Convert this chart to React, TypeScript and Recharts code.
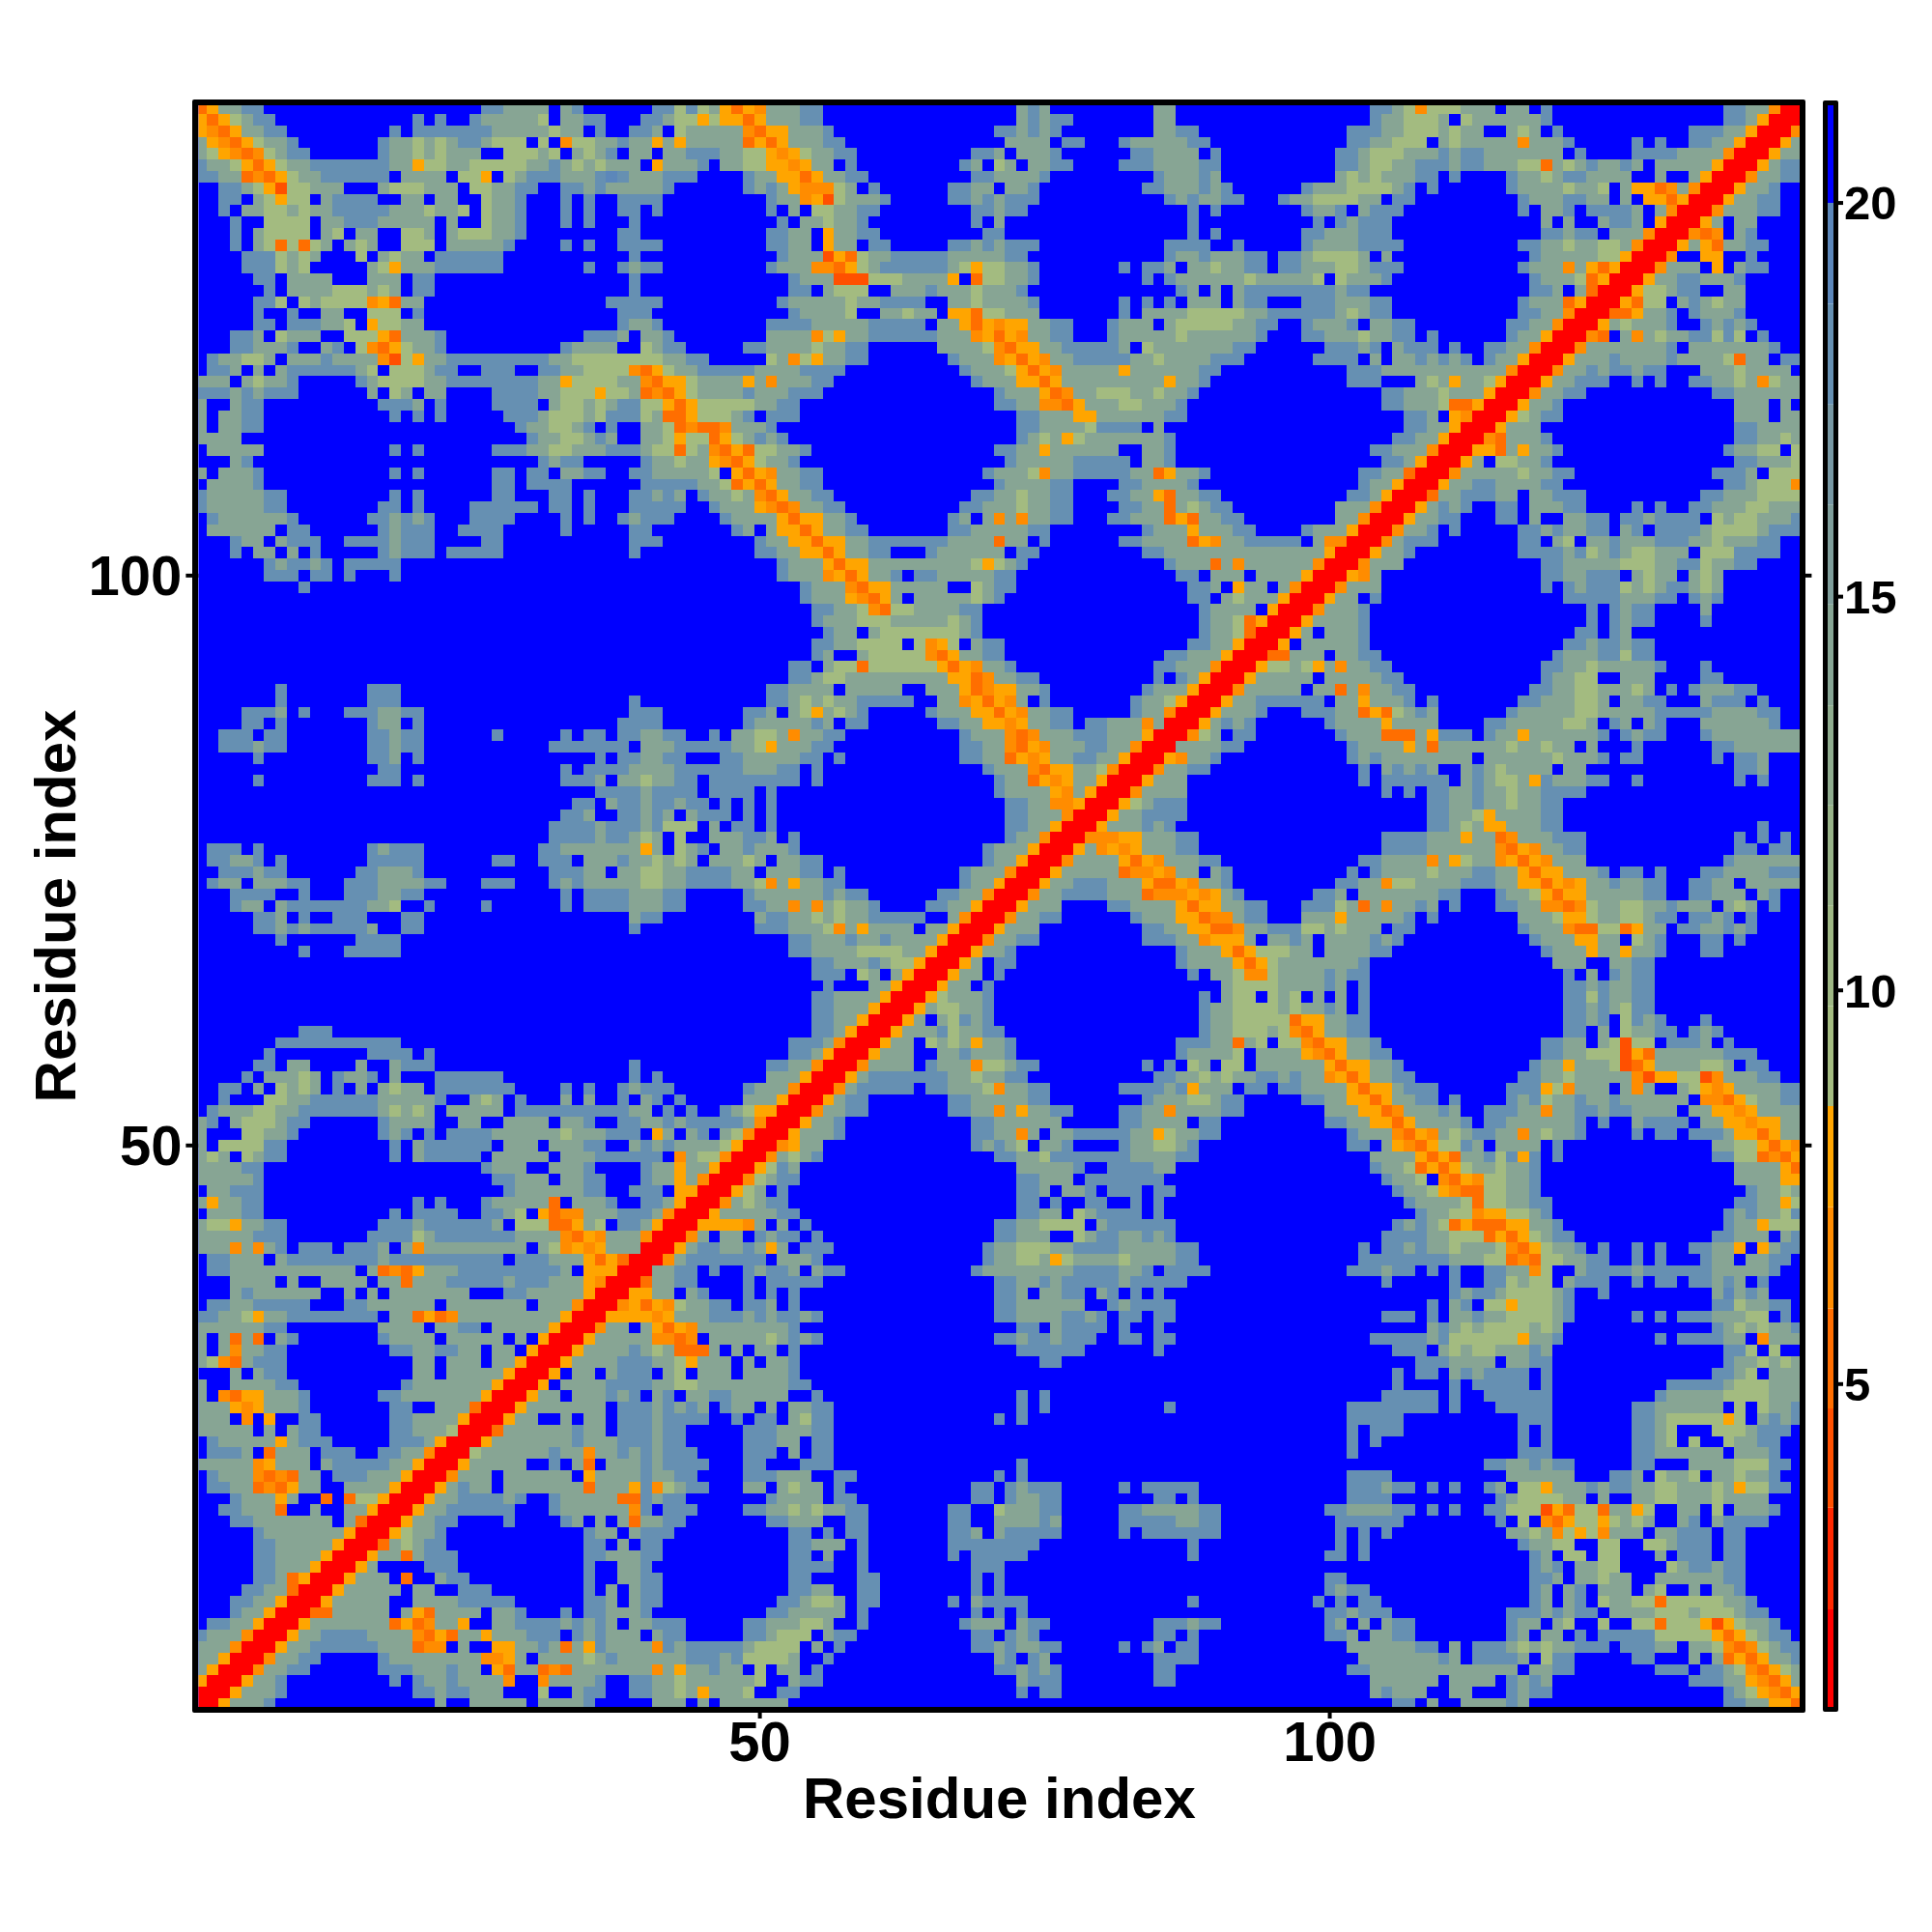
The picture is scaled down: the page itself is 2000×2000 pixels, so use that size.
import { Bar, BarChart, CartesianGrid, Scatter, ScatterChart, XAxis, YAxis } from "recharts"

// Contact map, upper-left half only, the other half is its mirror image.
// Each line is "image row|first residue:codes first residue:codes", blue cells are left out.
const westTopRows = [
    "1|1:ro3322 26:223333 33:32 41:22 43:42 45:43 47:orod",
    "2|1:oro4322 20:2 22:2 25:2333334 33:33 35:22 40:223 43:44 45:o4 47:oo 49:ro",
    "3|1:odro3322 18:2 20:222222233333433 36:2 39:223 43:433333 49:dr",
    "4|1:3odro4332 17:2334343223444 31:4 33:d 34:4433233 41:o3o 44:33333 49:ro",
    "5|1:34odrd4322 17:233434333 28:44434 34:3432 39:33 42:33222 47:3344",
    "6|1:2334oro433222222 17:233o4433444443323 34:4 35:34333 41:o3332 47:3344",
    "7|1:2233rdro433 12:22222 17:2 19:3333 24:44o 28:43222333212333222 49:23",
    "8|3:2234ox44333 17:3444333 25:443322 33:2232333332 49:23",
    "9|3:22 6:34o44 12:32222 19:33 22:33 26:4332 33:2 35:2 38:2222",
    "10|3:2 5:3344343 12:322222 18:3334334 26:4332 33:2 35:2 38:22 41:2",
    "11|4:2 7:4444 12:33222 17:33333 23:3 26:4332 33:2 35:2 39:2",
    "12|4:2 6:34444 12:34 15:33 19:443 23:3444332 38:22",
    "13|4:2 6:34r4r43 14:343 19:444 23:333332 33:2 35:2 38:2222",
    "14|5:2224343 15:4 17:3433 22:222222 39:2",
    "15|5:222434 16:34o333 22:222222 35:2 38:2322",
    "16|6:22 9:3333 16:333 20:22 39:2",
    "17|7:2 9:3333444343 20:22 39:2",
    "18|6:224 10:434444dor33 37:22222",
    "19|6:2 9:2 12:33 16:444 20:2 38:222",
    "20|6:22 9:222334 16:o4433 38:2332",
    "21|4:223 8:4333 14:444or3332 35:2223 40:332",
    "22|4:223332 12:32 15:4dro4332 33:23333 40:4322 49:22",
    "23|2:233443 9:33323333 17:dx4o33 23:222222222 32:3344444444 42:3322",
    "24|2:223 6:3 8:322222234 18:444322 26:222 31:22334444 39:dro433222223",
    "25|1:333 5:34332 15:23444433 23:22222222 31:33o4444 38:33 40:droo43333o3",
    "26|1:222323222 16:3 18:43 21:33 27:222233444o443rdro4333323",
    "27|1:3 4:322 17:2223 22:2 27:2222 32:3443432244oro4444432",
    "28|1:3 3:3322 18:2 20:2 22:2 28:2223 32:44434 37:222 40:43rro 45:44432",
    "29|1:3 3:3322 29:2334432 37:2 40:334rdrrd3332",
    "30|1:3333 30:23344323 40:334o44 46:ro4 49:32",
    "31|2:33333 18:2 20:2 27:2223 31:344333222344r43 46:dror4",
    "32|4:32 31:2322 40:233433 46:odro4",
    "33|1:3 3:3332 18:2 20:2 27:22 30:22 33:3322 39:22333 44:334 48:oro",
    "34|2:33332 27:22 30:2222 40:22222 45:33 47:4ror",
    "35|1:23333322 18:2 20:2 27:22 32:22 35:2 39:22323 45:23343d",
    "36|1:23333322 17:22 20:2 25:222222 32:22 35:2 39:22222 46:2333o",
    "37|2:23333332 16:223232 25:2222 33:2 35:2 38:23222 47:2333",
    "38|2:333333 9:22 17:23222 24:2222 33:2 39:22 48:23",
    "39|4:233 8:3222 14:22223222 26:22 39:222 50:2",
    "40|4:2 6:33 9:3 11:2 17:23222 23:22222 39:2 50:2",
    "41|7:232232 14:22222",
    "42|7:222 11:22 14:2 18:2",
    "43|10:2",
]

const westMiddleRows = [
    "52|8:2 16:222",
    "53|8:2 16:222 39:2",
    "54|5:2223 10:2 14:2223322 39:222 49:22",
    "55|5:22 8:2 16:233 20:2 38:2222 49:23",
    "56|3:222 7:22 16:22322 27:2 33:2 35:22 38:223322 46:2 48:334",
    "57|3:222322 16:22322 32:2222222 40:3332222222 48:334",
    "58|6:2 16:223 20:2 36:2 38:223322 47:2233",
    "59|17:22 33:2 35:2222333322222233",
    "60|6:2 16:222 20:2 33:2223 38:334332 44:2 46:22222",
    "61|36:222232222 46:222 49:2",
    "62|34:22 37:322322322 47:2 49:2",
    "63|33:223 38:22323 44:3222 49:2",
    "64|32:2222322232444 46:3 48:22",
    "65|32:2222322343 43:4 46:33322",
    "66|2:222 6:2 16:23222 31:2233333 38:33o3 43:432 47:3323",
    "67|2:22332 8:2 16:22222 27:22 31:222 35:3332334 42:343 46:33343",
    "68|3:222322 15:223332 32:22233 38:3344332222 48:33",
    "69|2:233 6:33322 14:222333322 26:222 32:2323333344332222334d",
    "70|4:2222 10:2 14:2223322 33:2 35:22223333 42:22 49:23",
    "71|4:233 8:32222222334 21:2 26:2 33:2 35:22223333 42:22 49:22",
    "72|6:223 10:2 13:222 19:22 39:322 50:3",
    "73|6:22323222223 19:22 39:2 50:2",
    "74|8:2 15:2222",
    "75|10:2 14:22222",
    "82|10:222",
    "83|8:22222222222",
    "84|7:2 16:2222 21:2",
    "85|6:22 9:33 15:3 18:3222 39:2",
    "86|5:2 7:33343 13:2332 18:3 22:222222 39:2 41:2",
    "87|3:22 6:3 8:4343 13:2 15:3 17:3433 22:2222222 33:2 35:2 38:23222 49:23",
    "88|3:2 7:4433222222 17:333332 25:343 29:2 33:3 35:3 38:2 40:32 43:2 49:33",
    "89|2:2333 6:4433 10:2222222 17:34343 23:33333 29:222222222 38:233 42:2 44:2 47:234o",
    "90|1:32 4:3444322 17:23333 24:33 28:3333 33:332 38:2233232 44:22222 49:3d",
    "91|1:3 5:44332 17:232 21:2 23:22223333334 34:333222 41:o3 44:32 47:34 49:dRR",
    "92|1:3 3:444422 18:2 20:3222222 28:333 32:333 35:22 39:323233 45:334 48:oRR",
    "93|1:343 5:4322 18:2 20:322222 27:33333 33:333222222 43:d344 47:dRR",
]

const westLowRows = [
    "94|1:333322 26:2333 32:3332 40:233o33 46:oRR",
    "95|1:333332 27:22333 33:3322 40:233o3 45:dRR",
    "96|2:33222 28:2333333 35:22 39:222 43:o 44:oRR",
    "97|1:3o3322 20:2 22:2 26:2333333 32:r 34:3332 40:223 43:oRR",
    "98|2:33322 18:2 20:2222 26:2234 31:ordd333 38:2223 42:dRR",
    "99|1:344o3322 17:2223222 24:2223 29:444rro34 38:223 41:oRR",
    "100|1:33333222 16:22224322 24:22222 29:3333drod333 40:dRR",
    "101|1:333d3d32 10:222 14:2223 19:3d33 23:3333333 31:34dodo33 39:3RR",
    "102|2:22333 8:322222222 17:3222222222 27:2 29:2223 33:33 35:oro 38:rRR",
    "103|2:22333333 10:33333 16:3rdro33322222 29:2222 33:3 35:oo 37:oRR",
    "104|4:3333 9:3 12:3333 17:33r333 23:222223 29:222333 35:o 36:dRR",
    "105|4:32333 9:333 14:3 16:3 18:33333 23:33 28:2233333 35:oRR",
    "106|2:2233 6:22222 14:22333333 23:3333333 31:333 34:dRR",
    "107|1:22334o33 9:22222222 18:33rord 24:333333333 33:oRR",
    "108|1:33333322 17:3333 22:3322 27:33333 32:oRR",
    "109|1:3 3:3r3r 8:32 17:23333 23:33333 29:3 31:oRR",
    "110|1:3 3:3d3322 18:22332233 27:33 30:oRR",
    "111|1:34dr3222 20:33 23:333 27:33 29:oRR",
    "112|4:3 6:322 20:33 23:33333 28:oRR",
    "113|1:3 4:333322 19:23333333 27:oRR",
    "114|1:3 3:droo3332 17:223333333 26:oRR",
    "115|1:333odo3332 18:22 22:333 25:rRR",
    "116|1:333 5:d 7:o 10:22 18:223333 24:oRR",
    "117|1:33333 7:3 9:322 18:22333 23:4RR",
    "118|2:233333o3 10:222 18:2223 22:oRR",
    "119|2:2223 7:r333 12:222 17:2233 21:dRR",
    "120|1:33333do333 12:32222233 20:oRR",
    "121|2:2333drdr33 13:222333 19:oRR",
    "122|2:2233rdro33 14:3333 18:oRR",
    "123|4:2333o3 12:r 14:r44 17:oRR",
    "124|3:22333r 11:3 14:33 16:oRR",
    "125|4:223333333 14:3 15:rRR",
    "126|6:23333333 14:oRR",
    "127|6:2233333 13:oRR",
    "128|6:223333 12:oRR",
    "129|6:22333 11:oRR",
    "130|6:223r 10:oRR",
    "131|5:2233 9:rRR",
    "132|4:2233 8:oRR",
    "133|4:233 7:oRR",
    "134|2:2233 6:oRR",
    "135|1:2333 5:dRR",
    "136|1:333 4:dRR",
    "137|1:33oRR",
    "138|1:3oRR",
    "139|1:oRR",
    "140|1:RR",
    "141|1:R",
]

const middleTopRows = [
    "1|51:33322 73:323 85:33",
    "2|51:33322 73:32322 85:33",
    "3|51:oo3332 71:223232 85:3322",
    "4|51:ro33322 72:3333 77:22 82:23333322",
    "5|51:odo43322 69:223 73:3332 83:223333 90:2",
    "6|51:oodo33 58:2 68:23 71:43 74:3322 82:222333322",
    "7|51:3ooro3322 69:2233332 85:233323",
    "8|51:23oddd43 60:2 67:2233 72:332 84:22333232 98:233",
    "9|51:233dox4333 61:2 67:22323222 86:2323322 96:23344",
    "10|51:2 53:3 55:443322 69:22322 88:2 90:2 98:233",
    "11|52:2 54:334332 69:2 71:3 88:2 99:2",
    "12|51:2233 56:o3322 70:22 88:2 90:2 98:223",
    "13|51:2233 56:o33 60:22 67:22323222 86:2222 92:2 98:233",
    "14|52:233 55:3xor433222222 67:3333322 86:233233322 96:22344",
    "15|51:2333ddro432222222 67:34o44332 82:2 84:223 88:334 91:3322 96:22333",
    "16|53:2333xxx4443333o 69:r44332 84:2 86:233333 92:34333334",
    "17|53:22 56:3444 62:33323334 70:3332 87:23 90:3 92:322222222",
    "18|52:2333334332222 67:33433332 82:2 84:2 86:2 88:333 92:322 98:222",
    "19|53:233334 61:33433 67:oor44333 82:2 84:3333 88:44444 93:33222222",
    "20|51:2222333332 61:2222 66:33orodoo3322 81:2333 86:344444 92:3322 98:233",
    "21|51:3333d4o33 60:2222223 67:33dorod3322 81:233333 87:43333 92:332 98:223",
    "22|51:333343322 66:33334droo3322222 82:3 84:43333333 92:22 100:2",
    "23|51:43d4o3322 67:2333dorod3322222 83:334333322 91:22 99:22",
    "24|51:3332222 68:23334 73:orod33333o33333 88:322",
    "25|51:d33322 69:2333oorod 77:333333333 86:o332",
    "26|51:33222 71:2333ord 78:33444334 86:332",
    "27|51:322 71:2233ddro 79:33344333 87:2",
    "28|51:222 73:22333oo3 80:33333 85:322",
    "29|51:2 73:22333342222 85:3",
    "30|51:32 73:2343o4333333 85:32",
    "31|51:4332 71:2233o333333 84:332",
    "32|51:332 72:233333 78:22222 84:332",
    "33|51:d3322 70:23334d33 78:22222 83:33ro332",
    "34|51:o3322 71:2333322 82:2233332",
    "35|51:ro3322 69:2233433 76:22 81:2233 85:or3322",
    "36|51:drd3322 68:223334 74:3322 82:2233r34322",
    "37|51:3oroo332 67:23 70:3d3d3322 81:22333 86:ror3322",
    "38|51:3ooro3322 67:223333322 84:2333o33322 98:233",
    "39|51:33ooroo33 60:2222222 67:3333r33 75:2 82:22333 87:3rod33 93:22222 99:3d",
    "40|51:233ooro332 60:22 65:2333 69:333 73:22 84:2233 88:33333333 96:3333 100:o",
    "41|52:23333 56:oroo333 62:3333 66:3334o433 73:2 86:2333r3d 93:333333 99:dRR",
    "42|52:2333dor 59:o33 62:2 64:22333 69:33 71:22 87:22 90:333 94:3333 98:oRR",
    "43|54:2333dr 60:oo33 62:33333 69:4322 88:223 92:o33 96:3dRR",
    "44|54:2333odro3 64:33333432 88:22 91:34333oRR",
    "45|55:2233 59:4dr44333 67:322 89:23333 95:oRR",
    "46|55:23334 60:4433 64:333432 89:2334 93:roRR",
    "47|56:233 60:34444444 68:32 89:2334rRR",
    "48|55:22334 60:444 64:4do4 69:322 88:2233oRR",
    "49|55:23 59:344444 65:dro33 70:22 86:22333oRR",
    "50|53:22 56:344r444444 66:orod332 85:22333dRR",
]

const middleLowRows = [
    "51|53:2234433333 63:3333 67:oord3322 85:2 87:23oRR",
    "52|51:223333 58:33333 65:333ordo 72:o332 84:2333oRR",
    "53|51:2234343322222 66:33dorodo 73:3 75:2 83:2334oRR",
    "54|51:3 53:34o3432 65:2333oorod3322 83:233dRR",
    "55|51:333323 58:22 66:2233oodo3322 79:22333d3 86:RR",
    "56|51:43d3322 68:2333drd 75:3332 79:22333oRR",
    "57|51:o33322 68:2233drod 76:3332233dRR",
    "58|51:33322 57:2 68:2233rodo3322 80:33oRR",
    "59|51:322 55:2 70:2333dro 77:o33 80:4dRR",
    "60|51:222 55:2 71:233rodo33oRR",
    "61|51:2 71:233 74:33od3oRR",
    "62|51:2 72:2233ddoRR",
    "63|51:2 72:22333dRR",
    "64|51:2 72:2233oRR",
    "65|51:3 53:2 72:233dRR",
    "66|51:332 70:2333oRR",
    "67|52:3322 70:233oRR",
    "68|51:33322 57:2 68:2333dRR",
    "69|51:d3o3322 68:233oRR",
    "70|51:333332322 66:2233dRR",
    "71|51:33d3d34332 65:2233oRR",
    "72|51:22334343322222 67:3dRR",
    "73|51:22333 56:4d3o3333 65:33oRR",
    "74|53:223332332333 65:3oRR",
    "75|53:223333444433 65:oRR",
    "76|55:22333233 62:44oRR",
    "77|55:222 59:43 62:3oRR",
    "78|56:2 60:33oRR",
    "79|55:223333oRR",
    "80|55:22333oRR",
    "81|55:2233oRR",
    "82|55:223oRR",
    "83|53:2223dRR",
    "84|53:223oRR",
    "85|51:2233dRR",
    "86|51:333oRR",
    "87|51:33dRR",
    "88|51:3oRR",
    "89|51:oRR",
    "90|51:RR",
]

const eastTopRows = [
    "1|104:2234d444333 116:33 119:2 135:2233dRR",
    "2|104:2334444 110:3 112:4333333 119:2 135:223oRRR",
    "3|102:22233 107:4443433 3 116:343 120:2 132:22233oRR",
    "4|102:2233 106:444 110:34333 115:33d333 121:2 127:2 129:2 132:223 134:33oRR",
    "5|101:22344433323223 114:33 116:33333 122:2 127:22223 132:33 134:3dRR",
    "6|101:22344332223223 114:333 117:44r3432 124:332 127:3 129:333 132:33oRR",
    "7|101:343433322 111:2 116:23343223 123:3333 129:3 132:3oRR",
    "8|101:34444 106:3 107:2 109:2 116:233334 122:334 126:3oord3dRR",
    "9|101:4433 106:22 117:23332233 126:3 128:ooroRR",
    "10|101:2 103:3222 117:2 119:332 123:22223 129:3dRR",
    "11|101:23222 119:3 121:3 124:3223 129:oRR",
    "12|101:33222 119:22322 125:333dRR",
    "13|101:332222 117:2233433443 127:dRR",
    "14|101:443 105:3 118:2333 122:3344 126:oRR",
    "15|101:443222 117:2333d3oroRR",
    "16|101:43332 118:2333 122:4roRR",
    "17|101:322 118:223 122:3rRR",
    "18|101:33322 117:2333roRR",
    "19|101:34322 117:2233dRR",
    "20|101:32 104:3322 116:2233dRR",
    "21|101:334333 106:22 109:2 116:233oRR",
    "22|101:2232 106:3222 111:2 114:2233dRR",
    "23|101:22 104:3 106:3323232 114:233oRR",
    "24|102:222333 108:3333333 115:3dRR",
    "25|102:222 108:343o334oRR",
    "26|105:2233 109:34333oRR",
    "27|105:223334rroRR",
    "28|107:223 111:odRR",
    "29|107:2233oRR",
    "30|106:2233oRR",
    "31|104:22333dRR",
    "32|105:223oRR",
    "33|103:2233rRR",
    "34|103:233oRR",
    "35|102:223oRR",
    "36|101:333dRR",
    "37|101:33dRR",
    "38|101:3oRR",
    "39|101:dRR",
    "40|101:RR",
]

const axisTicks = [50, 100]
const colourTicks = [5, 10, 15, 20]
const axisDomain = [0.74, 141.26]
const colourDomain = [0.9, 21.24]

const distanceOfCode: Record<string, number> = { "1": 19.5, "2": 18.2, "3": 14.2, "4": 9.2, o: 7.9, d: 6.6, r: 5.3, x: 4, R: 1.5 }
const bandEdges = [0.9, 2.14, 3.43, 4.69, 5.96, 7.25, 8.53, 9.8, 11.08, 12.35, 13.62, 14.9, 16.17, 17.44, 18.72, 20, 21.24]
const bandColours = ["#FF0000", "#FF2800", "#FF5000", "#FF6E00", "#FF8C00", "#FFA500", "#A3BB80", "#9EB784", "#97B288", "#8FAC8E", "#87A594", "#7F9E9B", "#7797A3", "#6690B2", "#5C87BA", "#0000FF"]

function colourOf(distance: number) {
    const band = bandEdges.findIndex((edge, i) => distance >= edge && distance < bandEdges[i + 1])
    return bandColours[band]
}

type ContactCell = { x: number; y: number; distance: number }

function buildCells() {
    const rows = [...westTopRows, ...westMiddleRows, ...westLowRows, ...middleTopRows, ...middleLowRows, ...eastTopRows]
    const cells: ContactCell[] = []
    rows.forEach((line) => {
        const [rowText, rest] = line.split("|")
        const y = 142 - Number(rowText)
        rest.split(" ").forEach((token) => {
            if (!token.includes(":")) return
            const [start, codes] = token.split(":")
            codes.split("").forEach((code, i) => {
                const x = Number(start) + i
                if (x > y || !distanceOfCode[code]) return
                cells.push({ x, y, distance: distanceOfCode[code] })
                if (x !== y) cells.push({ x: y, y: x, distance: distanceOfCode[code] })
            })
        })
    })
    return cells
}

const cellData = buildCells()
const cellSize = 11.8

// one stacked row for the colour key, each band's height is its span of distances
const colourRow: Record<string, number | string> = { name: "key" }
bandColours.forEach((_, i) => {
    colourRow["band" + i] = i === 0 ? bandEdges[1] : bandEdges[i + 1] - bandEdges[i]
})

function CellMark(props: any) {
    const { cx, cy, payload } = props
    return (
        <rect
            x={cx - cellSize / 2}
            y={cy - cellSize / 2}
            width={cellSize}
            height={cellSize}
            fill={colourOf(payload.distance)}
            shapeRendering="crispEdges"
        />
    )
}

function NoTickLabel() {
    return <g />
}

const tickStyle = { fontFamily: "Liberation Sans", fontWeight: "bold", fontSize: 58, fill: "#000000" }
const labelStyle = { fontFamily: "Liberation Sans", fontWeight: "bold", fontSize: 60, fill: "#000000" }
const tickLine = { stroke: "#000000", strokeWidth: 4 }

export default function App() {
    return (
        <div style={{ position: "absolute", left: 0, top: 0, width: 2000, height: 2000, background: "#ffffff" }}>
            <div style={{ position: "absolute", left: 0, top: 0 }}>
                <ScatterChart width={2000} height={2000} margin={{ top: 97, right: 124.6, bottom: 118, left: 25.4 }}>
                    <CartesianGrid horizontal={false} vertical={false} fill="#0000FF" fillOpacity={1} />
                    <XAxis
                        type="number"
                        dataKey="x"
                        domain={axisDomain}
                        ticks={axisTicks}
                        allowDataOverflow
                        height={115}
                        axisLine={false}
                        tickLine={tickLine}
                        tickSize={12}
                        tickMargin={3}
                        tick={tickStyle}
                        label={{ value: "Residue index", position: "insideBottom", offset: 0, style: labelStyle }}
                    />
                    <XAxis
                        xAxisId="top"
                        orientation="top"
                        type="number"
                        domain={axisDomain}
                        ticks={axisTicks}
                        allowDataOverflow
                        height={12}
                        axisLine={false}
                        tickLine={tickLine}
                        tickSize={12}
                        tick={<NoTickLabel />}
                    />
                    <YAxis
                        type="number"
                        dataKey="y"
                        domain={axisDomain}
                        ticks={axisTicks}
                        allowDataOverflow
                        width={180}
                        axisLine={false}
                        tickLine={tickLine}
                        tickSize={13}
                        tickMargin={4}
                        tick={tickStyle}
                        label={{ value: "Residue index", angle: -90, position: "insideLeft", offset: 31, style: { ...labelStyle, textAnchor: "middle" } }}
                    />
                    <YAxis
                        yAxisId="right"
                        orientation="right"
                        type="number"
                        domain={axisDomain}
                        ticks={axisTicks}
                        allowDataOverflow
                        width={12}
                        axisLine={false}
                        tickLine={tickLine}
                        tickSize={12}
                        tick={<NoTickLabel />}
                    />
                    <Scatter data={cellData} shape={CellMark} isAnimationActive={false} />
                </ScatterChart>
            </div>
            <div style={{ position: "absolute", left: 1892, top: 0 }}>
                <BarChart width={108} height={2000} data={[colourRow]} barCategoryGap={0} margin={{ top: 109, right: 0, bottom: 233, left: 0 }}>
                    <XAxis dataKey="name" hide />
                    <YAxis
                        orientation="right"
                        type="number"
                        domain={colourDomain}
                        ticks={colourTicks}
                        allowDataOverflow
                        width={101}
                        axisLine={false}
                        tickLine={tickLine}
                        tickSize={9}
                        tickMargin={1}
                        tick={{ ...tickStyle, fontSize: 49 }}
                    />
                    {bandColours.map((colour, i) => (
                        <Bar key={colour} dataKey={"band" + i} stackId="key" fill={colour} isAnimationActive={false} />
                    ))}
                </BarChart>
            </div>
            <div style={{ position: "absolute", left: 199.4, top: 103, width: 1658, height: 1658, border: "6px solid #000000", borderRadius: 2, pointerEvents: "none" }} />
            <div style={{ position: "absolute", left: 1887, top: 103.5, width: 6, height: 1658, border: "5.5px solid #000000", borderRadius: 2, pointerEvents: "none" }} />
        </div>
    )
}
